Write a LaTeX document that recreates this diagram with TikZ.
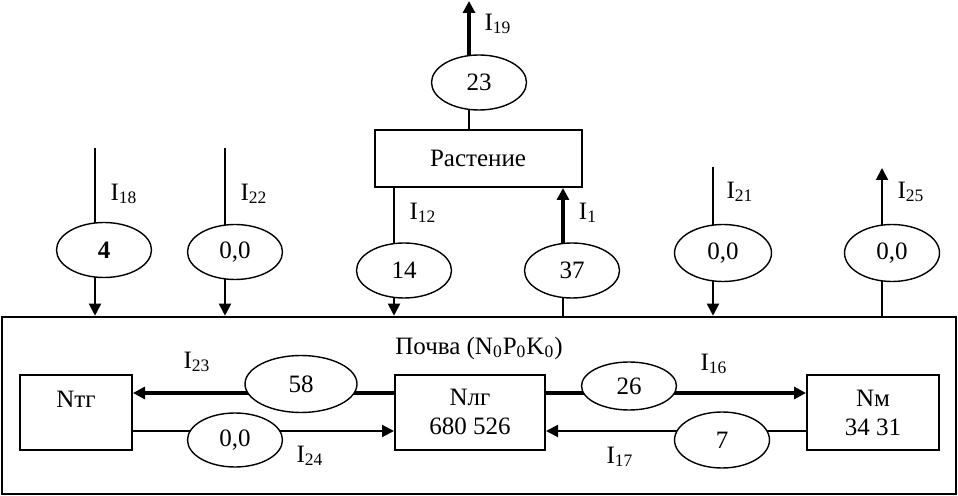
\documentclass[tikz,border=0pt]{standalone}
\usepackage{fontspec}
\setmainfont{Liberation Serif}
\usetikzlibrary{shapes.geometric,arrows.meta,fit}
\pgfdeclarelayer{bg}
\pgfsetlayers{bg,main}
\begin{document}
\begin{tikzpicture}[x=0.5pt,y=-0.5pt,
  font=\fontsize{12.5}{14.5}\selectfont,
  oval/.style={draw, ellipse, line width=0.7pt, fill=white, inner sep=0pt,
    minimum width=47.5pt, minimum height=27.5pt},
  box/.style={draw, line width=1pt, inner sep=0pt},
  ln/.style={line width=1pt},
  tk/.style={line width=1.6pt},
  arr/.style={-{Triangle[length=6pt,width=6pt]}},
  lbl/.style={inner sep=0pt}]
\useasboundingbox (0,0) rectangle (958,496);

% boxes
\node[box, line width=1.3pt, fit={(2,317) (956,494)}] (soil) {};
\node[box, fit={(375,130) (582,187)}] (rastbox) {};
\node[box, fit={(20,375) (132,450)}] (ntg) {};
\node[box, fit={(395,375) (545,450)}] (nlg) {};
\node[box, fit={(807,375) (939,450)}] (nm) {};

% box texts
\node[lbl] (tsoil) at (479,348) {Почва (N\textsubscript{0}P\textsubscript{0}K\textsubscript{0})};
\node[lbl] (trast) at (478,158) {Растение};
\node[lbl] (tntg) at (76,399) {Nтг};
\node[lbl, align=center] (tnlg) at (470,412) {Nлг\\680 526};
\node[lbl, align=center] (tnm) at (873,413) {Nм\\34 31};

% ellipses
\node[oval, minimum width=56pt, minimum height=28.5pt] (e58) at (301,384) {58};
\node[oval, minimum height=27pt] (e00a) at (235,440) {0,0};
\node[oval, minimum height=24pt] (e26) at (629,386) {26};
\node[oval, minimum height=28pt] (e7) at (722,440) {7};
\node[oval] (e4) at (104,250) {\textbf{4}};
\node[oval] (e22) at (235,252) {0,0};
\node[oval] (e14) at (404,270.5) {14};
\node[oval] (e37) at (572,270.5) {37};
\node[oval] (e23) at (479,82.5) {23};
\node[oval, minimum width=48.5pt, minimum height=28.5pt] (e21) at (723,253) {0,0};
\node[oval, minimum height=28.5pt] (e25) at (892,253) {0,0};

% labels
\node[lbl] (l23) at (197,362) {I\textsubscript{23}};
\node[lbl] (l24) at (310,456) {I\textsubscript{24}};
\node[lbl] (l16) at (714,364) {I\textsubscript{16}};
\node[lbl] (l17) at (620,457) {I\textsubscript{17}};
\node[lbl] (l18) at (124,194) {I\textsubscript{18}};
\node[lbl] (l22) at (254,194) {I\textsubscript{22}};
\node[lbl] (l12) at (423,213) {I\textsubscript{12}};
\node[lbl] (l1) at (588,213) {I\textsubscript{1}};
\node[lbl] (l19) at (498,24) {I\textsubscript{19}};
\node[lbl] (l21) at (740,192) {I\textsubscript{21}};
\node[lbl] (l25) at (911,192) {I\textsubscript{25}};

% helper coordinates
\coordinate (t18) at (95,148);
\coordinate (t22) at (225,148);
\coordinate (c12) at (394,0);
\coordinate (c1) at (563,0);
\coordinate (t19) at (469,1);
\coordinate (t21) at (713,167);
\coordinate (t25) at (882,168);
\coordinate (r1) at (0,393);
\coordinate (r2) at (0,431);

\begin{pgfonlayer}{bg}
  % inputs from above
  \draw[ln] (t18) -- (e4 -| t18);
  \draw[ln,arr] (e4 -| t18) -- (t18 |- soil.north);
  \draw[ln] (t22) -- (e22 -| t22);
  \draw[ln,arr] (e22 -| t22) -- (t22 |- soil.north);
  \draw[ln] (t21) -- (e21 -| t21);
  \draw[ln,arr] (e21 -| t21) -- (t21 |- soil.north);
  % output I25
  \draw[ln] (t25 |- soil.north) -- (e25 -| t25);
  \draw[ln,arr] (e25 -| t25) -- (t25);
  % plant links
  \draw[ln] (rastbox.south -| c12) -- (e14 -| c12);
  \draw[ln,arr] (e14 -| c12) -- (c12 |- soil.north);
  \draw[ln] (soil.north -| c1) -- (e37 -| c1);
  \draw[tk,arr] (e37 -| c1) -- (rastbox.south -| c1);
  \draw[ln] (rastbox.north -| t19) -- (e23 -| t19);
  \draw[tk,arr] (e23 -| t19) -- (t19);
  % soil internal flows
  \draw[tk,arr] (nlg.west |- r1) -- (ntg.east |- r1);
  \draw[ln,arr] (ntg.east |- r2) -- (nlg.west |- r2);
  \draw[tk,arr] (nlg.east |- r1) -- (nm.west |- r1);
  \draw[ln,arr] (nm.west |- r2) -- (nlg.east |- r2);
\end{pgfonlayer}
\end{tikzpicture}
\end{document}
